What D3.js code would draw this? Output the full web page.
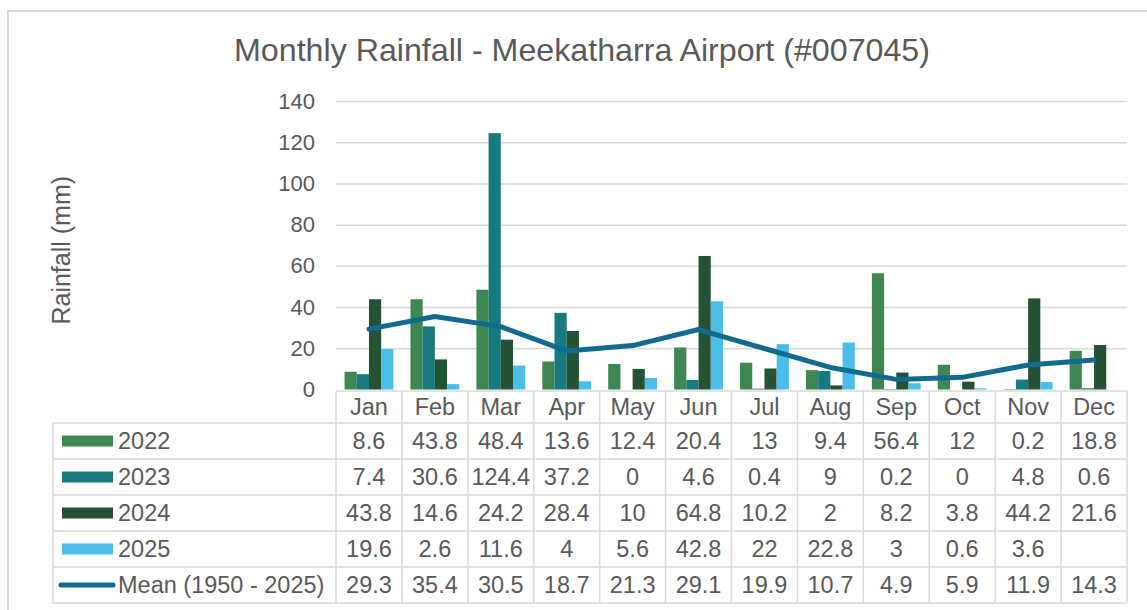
<!DOCTYPE html>
<html>
<head>
<meta charset="utf-8">
<script src="https://cdn.jsdelivr.net/npm/d3@7"></script>
<style>
  html, body { margin: 0; padding: 0; background: #ffffff; }
  svg { display: block; font-family: "Liberation Sans", Arial, sans-serif; }
</style>
</head>
<body>
<svg id="chart" width="1147" height="610"></svg>
<script>
const months = ["Jan","Feb","Mar","Apr","May","Jun","Jul","Aug","Sep","Oct","Nov","Dec"];
const seriesNames = ["2022","2023","2024","2025"];
const values2022 = [8.6, 43.8, 48.4, 13.6, 12.4, 20.4, 13, 9.4, 56.4, 12, 0.2, 18.8];
const values2023 = [7.4, 30.6, 124.4, 37.2, 0, 4.6, 0.4, 9, 0.2, 0, 4.8, 0.6];
const values2024 = [43.8, 14.6, 24.2, 28.4, 10, 64.8, 10.2, 2, 8.2, 3.8, 44.2, 21.6];
const values2025 = [19.6, 2.6, 11.6, 4, 5.6, 42.8, 22, 22.8, 3, 0.6, 3.6, null];
const meanName = "Mean (1950 - 2025)";
const meanValues = [29.3, 35.4, 30.5, 18.7, 21.3, 29.1, 19.9, 10.7, 4.9, 5.9, 11.9, 14.3];
const yTicks = [0, 20, 40, 60, 80, 100, 120, 140];
const titleText = "Monthly Rainfall - Meekatharra Airport (#007045)";
const yLabel = "Rainfall (mm)";

const colors = ["#3e8753", "#177a7e", "#255234", "#4bbde9"];
const meanColor = "#126b8e";
const textColor = "#595959";
const gridColor = "#d9d9d9";

const barSeries = [values2022, values2023, values2024, values2025];

const svg = d3.select("#chart");

// outer frame
svg.append("path")
  .attr("d", "M8,610 L8,11 L1147,11")
  .attr("fill", "none").attr("stroke", gridColor).attr("stroke-width", 2);

const plotLeft = 336, plotRight = 1127, plotTop = 101, plotBottom = 389.5;

const x = d3.scaleBand().domain(months).range([plotLeft, plotRight]).paddingInner(0).paddingOuter(0);
const xInner = d3.scaleBand().domain(seriesNames).range([0, x.bandwidth()]).paddingOuter(0.7).paddingInner(0);
const y = d3.scaleLinear().domain([0, 140]).range([plotBottom, plotTop]);

// title
svg.append("text")
  .attr("x", 582).attr("y", 61)
  .attr("text-anchor", "middle")
  .attr("font-size", 32.2)
  .attr("fill", textColor)
  .text(titleText);

// gridlines + y axis
const yAxis = d3.axisLeft(y).tickValues(yTicks).tickSize(-(plotRight - plotLeft)).tickPadding(21);
const gY = svg.append("g").attr("transform", `translate(${plotLeft},0)`).call(yAxis);
gY.select(".domain").remove();
gY.selectAll(".tick line").attr("stroke", gridColor).attr("stroke-width", 1.5);
gY.selectAll(".tick text").attr("fill", textColor).attr("font-size", 22)
  .attr("font-family", "\"Liberation Sans\", Arial, sans-serif");
gY.selectAll(".tick").filter(d => d === 0).select("line").remove();

// y label
svg.append("text")
  .attr("transform", `translate(70,${(plotTop + plotBottom) / 2 + 5}) rotate(-90)`)
  .attr("text-anchor", "middle")
  .attr("font-size", 25)
  .attr("fill", textColor)
  .text(yLabel);

// bars
barSeries.forEach((vals, si) => {
  svg.append("g").selectAll("rect")
    .data(vals.map((v, i) => ({ m: months[i], v })).filter(d => d.v !== null && d.v > 0))
    .join("rect")
    .attr("x", d => x(d.m) + xInner(seriesNames[si]))
    .attr("width", xInner.bandwidth())
    .attr("y", d => y(d.v))
    .attr("height", d => y(0) - y(d.v))
    .attr("fill", colors[si]);
});

// mean line
const line = d3.line()
  .x((d, i) => x(months[i]) + x.bandwidth() / 2)
  .y(d => y(d));
svg.append("path")
  .datum(meanValues)
  .attr("d", line)
  .attr("fill", "none")
  .attr("stroke", meanColor)
  .attr("stroke-width", 5)
  .attr("stroke-linejoin", "round")
  .attr("stroke-linecap", "round");

// data table
const tableLeft = 53;
const headerTop = 391, headerBottom = 423;
const rowH = 36;
const tableFont = 23.5;
const rows = [
  { name: seriesNames[0], vals: values2022, type: "bar", color: colors[0] },
  { name: seriesNames[1], vals: values2023, type: "bar", color: colors[1] },
  { name: seriesNames[2], vals: values2024, type: "bar", color: colors[2] },
  { name: seriesNames[3], vals: values2025, type: "bar", color: colors[3] },
  { name: meanName, vals: meanValues, type: "line", color: meanColor }
];
const tableBottom = headerBottom + rowH * rows.length;

const tbl = svg.append("g");
function hline(x1, x2, yy) {
  tbl.append("line").attr("x1", x1).attr("x2", x2).attr("y1", yy).attr("y2", yy)
    .attr("stroke", gridColor).attr("stroke-width", 1.5);
}
function vline(xx, y1, y2) {
  tbl.append("line").attr("x1", xx).attr("x2", xx).attr("y1", y1).attr("y2", y2)
    .attr("stroke", gridColor).attr("stroke-width", 1.5);
}
hline(plotLeft, plotRight, headerTop);
for (let r = 0; r <= rows.length; r++) hline(tableLeft, plotRight, headerBottom + r * rowH);
vline(tableLeft, headerBottom, tableBottom);
months.forEach(m => vline(x(m), headerTop, tableBottom));
vline(plotRight, headerTop, tableBottom);

// month labels
tbl.selectAll("text.month").data(months).join("text")
  .attr("class", "month")
  .attr("x", d => x(d) + x.bandwidth() / 2)
  .attr("y", (headerTop + headerBottom) / 2)
  .attr("dy", "0.36em")
  .attr("text-anchor", "middle")
  .attr("font-size", tableFont)
  .attr("fill", textColor)
  .text(d => d);

rows.forEach((row, r) => {
  const cy = headerBottom + r * rowH + rowH / 2;
  if (row.type === "bar") {
    tbl.append("rect").attr("x", 62).attr("y", cy - 5.5).attr("width", 51).attr("height", 11)
      .attr("fill", row.color);
  } else {
    tbl.append("line").attr("x1", 61).attr("x2", 113).attr("y1", cy).attr("y2", cy)
      .attr("stroke", row.color).attr("stroke-width", 5).attr("stroke-linecap", "round");
  }
  tbl.append("text").attr("x", 118).attr("y", cy).attr("dy", "0.36em")
    .attr("font-size", tableFont).attr("fill", textColor).text(row.name);
  row.vals.forEach((v, i) => {
    if (v === null) return;
    tbl.append("text")
      .attr("x", x(months[i]) + x.bandwidth() / 2)
      .attr("y", cy).attr("dy", "0.36em")
      .attr("text-anchor", "middle")
      .attr("font-size", tableFont)
      .attr("fill", textColor)
      .text(v);
  });
});
</script>
</body>
</html>
